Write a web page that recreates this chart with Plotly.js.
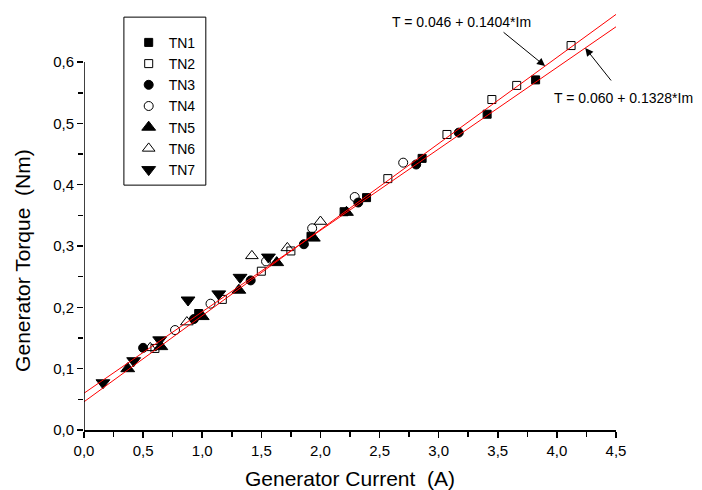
<!DOCTYPE html>
<html>
<head>
<meta charset="utf-8">
<script src="https://cdn.plot.ly/plotly-3.0.1.min.js"></script>
<style>html,body{margin:0;padding:0;background:#fff;}#chart{width:702px;height:490px;}</style>
</head>
<body>
<div id="chart"></div>
<script>
// ---- data ----
const seriesNames = ["TN1", "TN2", "TN3", "TN4", "TN5", "TN6", "TN7"];

const tn1_x = [0.97, 1.92, 2.20, 2.39, 2.86, 3.41, 3.82];
const tn1_y = [0.190, 0.316, 0.356, 0.379, 0.443, 0.515, 0.571];

const tn2_x = [0.60, 1.17, 1.50, 1.75, 2.57, 3.07, 3.45, 3.66, 4.12];
const tn2_y = [0.133, 0.213, 0.259, 0.292, 0.410, 0.482, 0.539, 0.562, 0.627];

const tn3_x = [0.50, 0.93, 1.41, 1.86, 2.32, 2.81, 3.17];
const tn3_y = [0.134, 0.181, 0.244, 0.303, 0.371, 0.433, 0.485];

const tn4_x = [0.77, 1.07, 1.54, 1.93, 2.29, 2.70];
const tn4_y = [0.163, 0.206, 0.275, 0.329, 0.380, 0.436];

const tn5_x = [0.37, 0.65, 1.00, 1.31, 1.63, 1.94, 2.22];
const tn5_y = [0.100, 0.136, 0.185, 0.228, 0.273, 0.313, 0.355];

const tn6_x = [0.56, 0.87, 1.42, 1.72, 2.00];
const tn6_y = [0.134, 0.176, 0.284, 0.297, 0.340];

const tn7_x = [0.16, 0.42, 0.64, 0.88, 1.14, 1.32, 1.56];
const tn7_y = [0.077, 0.113, 0.147, 0.212, 0.222, 0.249, 0.282];

// linear fits (intercept, slope) as printed on the chart
const fitIntercepts = [0.046, 0.060];
const fitSlopes = [0.1404, 0.1328];
const fitLabels = ["T = 0.046 + 0.1404*Im", "T = 0.060 + 0.1328*Im"];
const fitXRange = [0, 4.5];

const xTickVals = [0, 0.5, 1.0, 1.5, 2.0, 2.5, 3.0, 3.5, 4.0, 4.5];
const yTickVals = [0, 0.1, 0.2, 0.3, 0.4, 0.5, 0.6];
const yMinorVals = [0.05, 0.15, 0.25, 0.35, 0.45, 0.55];
const xTitle = "Generator Current  (A)";
const yTitle = "Generator Torque  (Nm)";

// ---- build traces ----
const FONT = "Liberation Sans, Arial, sans-serif";
const xs = [tn1_x, tn2_x, tn3_x, tn4_x, tn5_x, tn6_x, tn7_x];
const ys = [tn1_y, tn2_y, tn3_y, tn4_y, tn5_y, tn6_y, tn7_y];
const symbols = ["square", "square-open", "circle", "circle-open", "triangle-up", "triangle-up-open", "triangle-down"];
const sizes = [8, 8, 9, 9, 12, 11, 12];

const traces = seriesNames.map((n, i) => ({
  type: "scatter", mode: "markers", name: n, x: xs[i], y: ys[i],
  cliponaxis: false,
  marker: {symbol: symbols[i], size: sizes[i], color: "#000", line: {color: "#000", width: 1}}
}));

fitIntercepts.forEach((b, i) => {
  traces.push({
    type: "scatter", mode: "lines", showlegend: false, hoverinfo: "skip",
    x: fitXRange, y: fitXRange.map(v => b + fitSlopes[i] * v),
    line: {color: "#ff0000", width: 1}
  });
});

const layout = {
  width: 702, height: 490,
  margin: {l: 84, r: 86, t: 10, b: 60},
  paper_bgcolor: "#fff", plot_bgcolor: "#fff",
  separators: ", ",
  font: {family: FONT, color: "#000", size: 15},
  showlegend: true,
  legend: {
    x: 0.084, y: 0.96, xanchor: "left", yanchor: "top",
    bgcolor: "rgba(0,0,0,0)", borderwidth: 0,
    font: {family: FONT, size: 14, color: "#000"},
    itemsizing: "trace", tracegroupgap: 0
  },
  xaxis: {
    range: [0, 4.5], tickmode: "array", tickvals: xTickVals, tickformat: ".1f",
    showgrid: false, zeroline: false, showline: true, linecolor: "#000", linewidth: 1.5,
    ticks: "outside", ticklen: 6, tickwidth: 1.5, tickcolor: "#000",
    minor: {dtick: 0.25, tick0: 0, ticks: "outside", ticklen: 5, tickwidth: 1.5, tickcolor: "#000", showgrid: false},
    tickfont: {family: FONT, size: 15},
    title: {text: xTitle, font: {family: FONT, size: 21}, standoff: 14}
  },
  yaxis: {
    range: [0, 0.685], tickmode: "array", tickvals: yTickVals, tickformat: ".1f",
    showgrid: false, zeroline: false, showline: false,
    ticks: "outside", ticklen: 6, tickwidth: 1.5, tickcolor: "#000",
    minor: {tickmode: "array", tickvals: yMinorVals, ticks: "outside", ticklen: 5, tickwidth: 1.5, tickcolor: "#000", showgrid: false},
    tickfont: {family: FONT, size: 15}
  },
  shapes: [
    {type: "line", xref: "x", yref: "y", x0: 0, x1: 0, y0: 0, y1: 0.6, line: {color: "#000", width: 1.5}},
    {type: "rect", xref: "paper", yref: "paper", x0: 0.075, x1: 0.229, y0: 0.583, y1: 0.983, line: {color: "#000", width: 1}}
  ],
  annotations: [
    {xref: "paper", yref: "paper", x: -0.1147, y: 0.405, text: yTitle, textangle: -90, showarrow: false,
     xanchor: "center", yanchor: "middle", font: {family: FONT, size: 21, color: "#000"}},
    {xref: "x", yref: "y", x: 3.90, y: fitIntercepts[0] + fitSlopes[0] * 3.90, text: "", showarrow: true,
     ax: -43, ay: -35, arrowhead: 2, arrowsize: 1.6, arrowwidth: 1, arrowcolor: "#000"},
    {xref: "x", yref: "y", x: 4.24, y: fitIntercepts[1] + fitSlopes[1] * 4.24, text: "", showarrow: true,
     ax: 27, ay: 34, arrowhead: 2, arrowsize: 1.6, arrowwidth: 1, arrowcolor: "#000"},
    {xref: "paper", yref: "paper", x: 0.7105, y: 0.9714, text: fitLabels[0], showarrow: false,
     xanchor: "center", yanchor: "middle", font: {family: FONT, size: 14, color: "#000"}},
    {xref: "paper", yref: "paper", x: 1.015, y: 0.7905, text: fitLabels[1], showarrow: false,
     xanchor: "center", yanchor: "middle", font: {family: FONT, size: 14, color: "#000"}}
  ]
};

Plotly.newPlot("chart", traces, layout, {displayModeBar: false, staticPlot: true});
</script>
</body>
</html>
